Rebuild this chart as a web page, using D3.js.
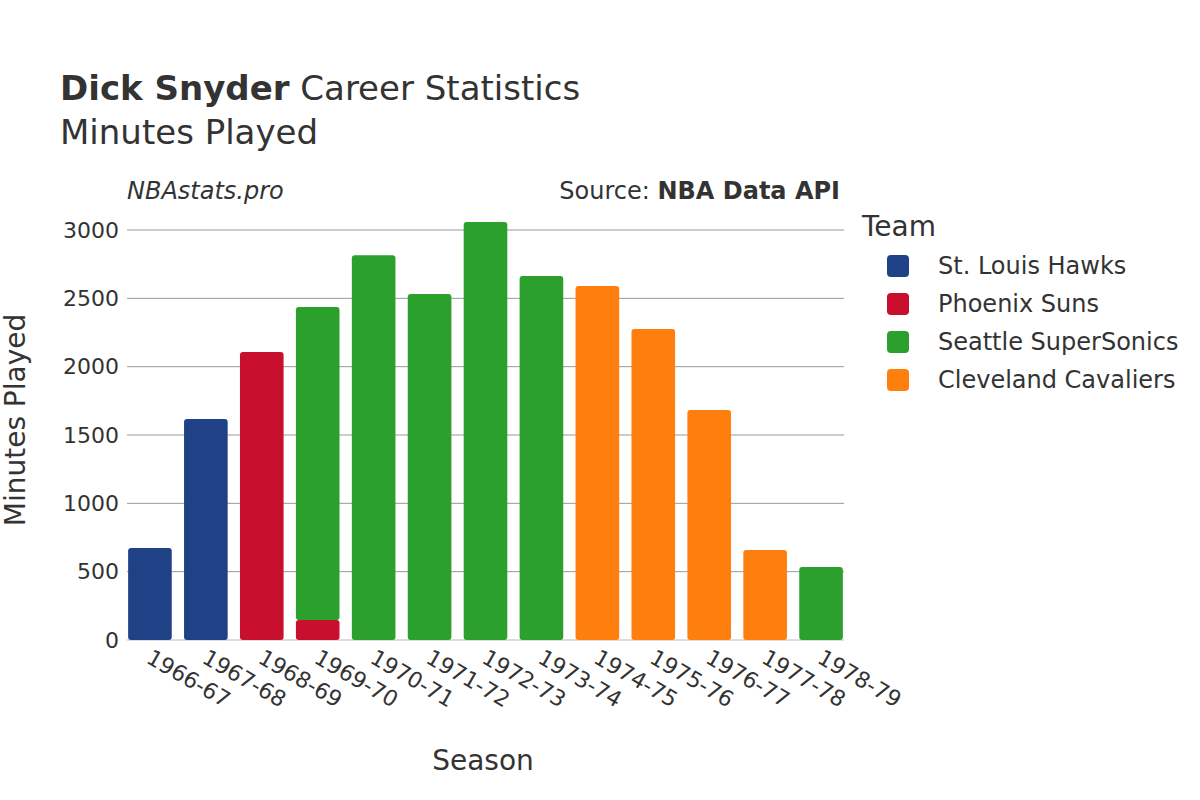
<!DOCTYPE html>
<html><head><meta charset="utf-8">
<script src="https://cdn.jsdelivr.net/npm/d3@7"></script>
<style>body{margin:0;background:#fff}text{font-family:"DejaVu Sans",sans-serif;fill:#333}</style>
</head><body><svg id="c" width="1200" height="800"></svg>
<script>
const seasons=["1966-67","1967-68","1968-69","1969-70","1970-71","1971-72","1972-73","1973-74","1974-75","1975-76","1976-77","1977-78","1978-79"];
const teams=["St. Louis Hawks","Phoenix Suns","Seattle SuperSonics","Cleveland Cavaliers"];
const colors=["#1f4287","#c8102e","#2ca02c","#ff7f0e"];
const hawks=[673,1617,0,0,0,0,0,0,0,0,0,0,0];
const suns=[0,0,2107,146,0,0,0,0,0,0,0,0,0];
const sonics=[0,0,0,2290,2816,2531,3058,2663,0,0,0,0,534];
const cavs=[0,0,0,0,0,0,0,0,2590,2275,1683,658,0];
const yTicks=[0,500,1000,1500,2000,2500,3000];
const series=[hawks,suns,sonics,cavs];
const svg=d3.select("#c");
const L=127,R=844,B=640;
const x=d3.scaleBand().domain(seasons).range([L,R]).paddingInner(0.22).paddingOuter(0.02);
const y=d3.scaleLinear().domain([0,3000]).range([B,230]);
const g=svg.append("g");
yTicks.forEach(t=>{g.append("line").attr("x1",L).attr("x2",R).attr("y1",y(t)).attr("y2",y(t)).attr("stroke",t?"#999":"#ddd").attr("stroke-width",t?1:2);
g.append("text").attr("x",L-8).attr("y",y(t)).attr("dy","0.35em").attr("text-anchor","end").attr("font-size",22).text(t);});
seasons.forEach((s,i)=>{let base=0;series.forEach((arr,k)=>{const v=arr[i];if(!v)return;
g.append("rect").attr("x",x(s)).attr("width",x.bandwidth()).attr("y",y(base+v)).attr("height",y(base)-y(base+v)).attr("rx",3).attr("fill",colors[k]);base+=v;});
g.append("text").attr("transform",`translate(${x(s)+x.bandwidth()/2-5},${B+22}) rotate(30)`).attr("font-size",22).text(s);});
svg.append("text").attr("x",60).attr("y",100).attr("font-size",34).html('<tspan font-weight="bold">Dick Snyder</tspan> Career Statistics');
svg.append("text").attr("x",60).attr("y",144).attr("font-size",34).text("Minutes Played");
svg.append("text").attr("x",127).attr("y",199).attr("font-size",24).attr("font-style","italic").text("NBAstats.pro");
svg.append("text").attr("x",840).attr("y",199).attr("font-size",24).attr("text-anchor","end").html('Source: <tspan font-weight="bold">NBA Data API</tspan>');
svg.append("text").attr("x",483).attr("y",770).attr("font-size",28).attr("text-anchor","middle").text("Season");
svg.append("text").attr("transform","translate(25,420) rotate(-90)").attr("font-size",28).attr("text-anchor","middle").text("Minutes Played");
svg.append("text").attr("x",862).attr("y",236).attr("font-size",28).text("Team");
teams.forEach((t,i)=>{const yy=266+i*38;svg.append("rect").attr("x",887).attr("y",yy-11).attr("width",22).attr("height",22).attr("rx",4).attr("fill",colors[i]);
svg.append("text").attr("x",938).attr("y",yy).attr("dy","0.35em").attr("font-size",24).text(t);});
</script></body></html>
